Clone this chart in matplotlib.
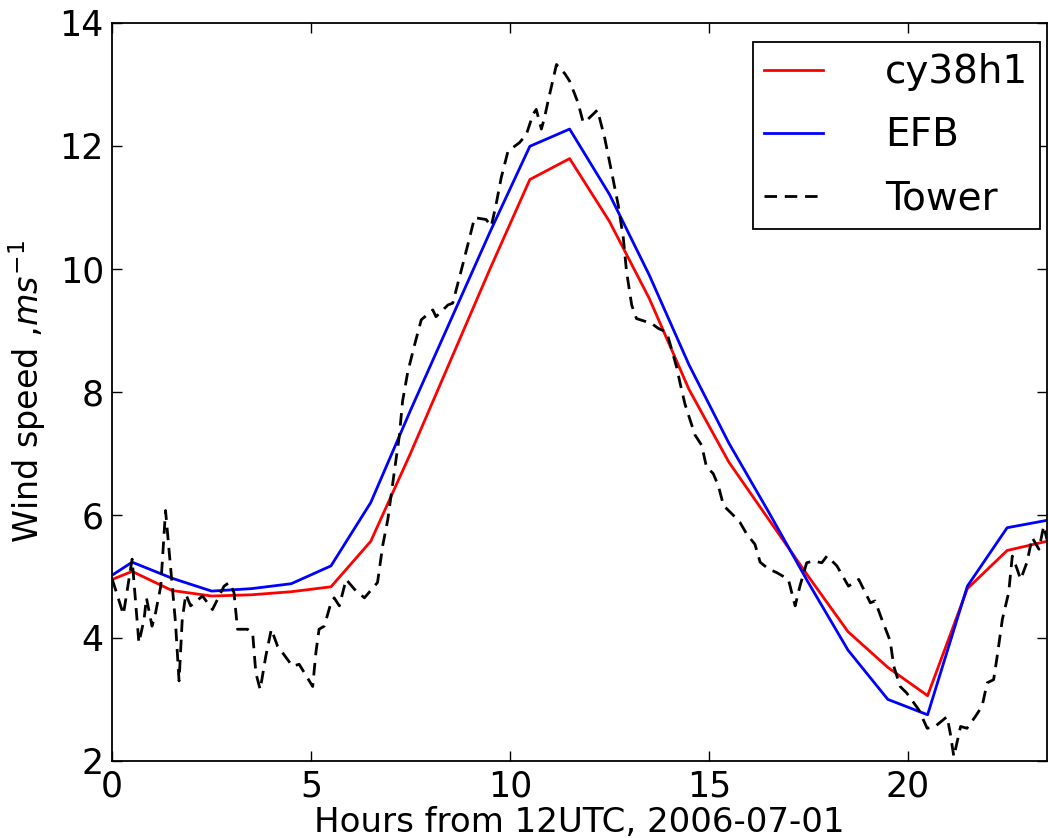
import numpy as np
import matplotlib
matplotlib.use("Agg")
from matplotlib import pyplot as plt

# model output, hourly means (plus the start value)
model_hours = [0, 0.5, 1.5, 2.5, 3.5, 4.5, 5.5, 6.5, 7.5, 8.5, 9.5, 10.5, 11.5,
               12.5, 13.5, 14.5, 15.5, 16.5, 17.5, 18.5, 19.5, 20.5, 21.5, 22.5, 23.5]
cy38h1 = [4.95, 5.08, 4.77, 4.68, 4.70, 4.75, 4.83, 5.57, 7.00, 8.50, 10.00, 11.45, 11.79,
          10.77, 9.52, 8.04, 6.86, 5.93, 5.00, 4.10, 3.52, 3.06, 4.80, 5.42, 5.57]
efb = [5.02, 5.23, 4.97, 4.76, 4.80, 4.88, 5.17, 6.20, 7.70, 9.15, 10.60, 11.99, 12.27,
       11.21, 9.90, 8.44, 7.17, 6.05, 4.90, 3.80, 3.00, 2.75, 4.84, 5.79, 5.91]

# tower observations
tower_hours = [0.0, 0.08, 0.28, 0.5, 0.67, 0.8, 0.86, 1.0, 1.09, 1.22, 1.34, 1.47, 1.59, 1.68,
               1.76, 1.85, 1.97, 2.27, 2.52, 2.81, 2.94, 3.06, 3.15, 3.4, 3.53, 3.61, 3.72,
               3.86, 4.0, 4.16, 4.28, 4.53, 4.7, 5.04, 5.12, 5.2, 5.33, 5.5, 5.58, 5.71, 5.88,
               6.09, 6.34, 6.67, 6.8, 6.93, 7.09, 7.22, 7.3, 7.43, 7.6, 7.77, 8.06, 8.14,
               8.44, 8.56, 8.77, 8.94, 9.11, 9.4, 9.53, 9.65, 9.78, 9.95, 10.24, 10.41,
               10.58, 10.66, 10.79, 10.87, 10.96, 11.17, 11.38, 11.5, 11.71, 11.84, 11.96,
               12.2, 12.38, 12.55, 12.72, 12.85, 12.93, 13.06, 13.18, 13.56, 13.73, 13.94,
               14.06, 14.19, 14.27, 14.4, 14.55, 14.65, 14.82, 14.94, 15.11, 15.24, 15.37,
               15.62, 15.78, 15.95, 16.16, 16.29, 16.5, 16.71, 17.0, 17.17, 17.29, 17.46,
               17.63, 17.84, 17.97, 18.22, 18.51, 18.77, 19.06, 19.18, 19.35, 19.56, 19.65,
               19.81, 19.98, 20.28, 20.49, 20.69, 20.99, 21.07, 21.16, 21.33, 21.49, 21.7,
               21.87, 22.0, 22.16, 22.25, 22.38, 22.54, 22.63, 22.75, 22.84, 23.0, 23.13,
               23.3, 23.42, 23.5]
tower = [4.95, 4.79, 4.38, 5.28, 3.92, 4.3, 4.65, 4.19, 4.41, 4.84, 6.07, 5.12, 4.25, 3.3,
         4.3, 4.71, 4.52, 4.68, 4.46, 4.84, 4.9, 4.74, 4.14, 4.14, 4.08, 3.43, 3.16,
         3.7, 4.14, 3.86, 3.76, 3.54, 3.57, 3.21, 3.76, 4.14, 4.19, 4.57, 4.65, 4.52, 4.95,
         4.79, 4.65, 4.9, 5.5, 5.93, 6.69, 7.29, 7.85, 8.32, 8.76, 9.17, 9.33, 9.22,
         9.41, 9.44, 9.96, 10.39, 10.83, 10.8, 10.69, 11.04, 11.48, 11.91, 12.05, 12.18,
         12.51, 12.59, 12.27, 12.46, 12.73, 13.32, 13.17, 13.05, 12.7, 12.38, 12.43,
         12.58, 12.13, 11.59, 11.04, 10.5, 9.96, 9.41, 9.19, 9.11, 9.03, 8.97,
         8.7, 8.4, 8.16, 7.8, 7.5, 7.3, 7.13, 6.78, 6.67, 6.47, 6.15,
         5.99, 5.88, 5.69, 5.52, 5.23, 5.12, 5.06, 4.95, 4.52, 4.84, 5.22,
         5.25, 5.22, 5.33, 5.17, 4.84, 4.95, 4.57, 4.6, 4.3, 3.95, 3.54,
         3.21, 3.1, 2.83, 2.53, 2.56, 2.72, 2.45, 2.07, 2.56, 2.53, 2.72,
         2.89, 3.27, 3.32, 3.7, 4.3, 4.74, 5.33, 5.12, 4.95, 5.23, 5.63,
         5.44, 5.82, 5.6]

plt.rcParams['font.family'] = ['DejaVu Sans']
plt.rcParams['mathtext.fontset'] = 'dejavusans'

fig = plt.figure(figsize=(10.49, 8.38), dpi=100)
ax = fig.add_axes([0.107, 0.092, 0.891, 0.881])

ax.plot(model_hours, cy38h1, color='#FF0000', lw=2, label='cy38h1')
ax.plot(model_hours, efb, color='#0000FF', lw=2, label='EFB')
ax.plot(tower_hours, tower, color='black', lw=2, dashes=(4.5, 2.8), label='Tower')

ax.set_xlim(0, 23.5)
ax.set_ylim(2, 14)
ax.set_xticks([0, 5, 10, 15, 20])
ax.set_yticks(np.arange(2, 15, 2))
ax.tick_params(direction='in', length=7, width=1, labelsize=25, top=True, right=True, pad=6)
for s in ax.spines.values():
    s.set_linewidth(1.3)

ax.set_xlabel('Hours from 12UTC, 2006-07-01', fontsize=24.5, labelpad=2)
ax.set_ylabel('Wind speed ,$ms^{-1}$', fontsize=24, labelpad=8)

# legend sits close to the right spine, a bit lower from the top
leg = ax.legend(loc='upper right', bbox_to_anchor=(0.9925, 0.974), fontsize=28,
                fancybox=False, framealpha=1, edgecolor='black',
                handlelength=1.5, handletextpad=1.6, borderaxespad=0,
                labelspacing=0.64, borderpad=0.3)
leg.get_frame().set_linewidth(1.3)

plt.savefig('out.png', dpi=100)
plt.close('all')
